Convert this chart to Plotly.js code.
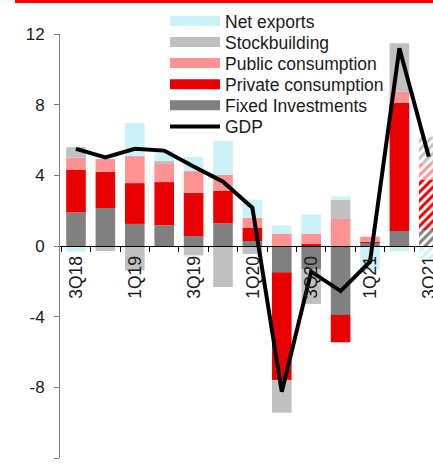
<!DOCTYPE html>
<html>
<head>
<meta charset="utf-8">
<script src="https://cdn.plot.ly/plotly-3.0.1.min.js"></script>
<style>
  html, body { margin: 0; padding: 0; background: #fff; overflow: hidden; }
  #wrap { position: relative; width: 433px; height: 466px; }
  #chart { width: 433px; height: 466px; }
  #topbar { position: absolute; left: 15px; top: 0; width: 418px; height: 3px; background: #ff0000; z-index: 10; }
  #xlabels { position: absolute; left: 0; top: 0; z-index: 5; pointer-events: none; }
</style>
</head>
<body>
<div id="wrap">
  <div id="topbar"></div>
  <div id="chart"></div>
  <svg id="xlabels" width="433" height="466"></svg>
</div>
<script>
// ---- data ----
const quarters = ['3Q18','4Q18','1Q19','2Q19','3Q19','4Q19','1Q20','2Q20','3Q20','4Q20','1Q21','2Q21','3Q21'];
const tickLabels = ['3Q18','1Q19','3Q19','1Q20','3Q20','1Q21','3Q21'];
const forecastQuarters = ['3Q21'];

const fixedInvestments   = [1.90, 2.15, 1.25, 1.17, 0.57, 1.28, 0.28, -1.49, -1.30, -3.90, 0.17, 0.85, 0.90];
const privateConsumption = [2.42, 2.05, 2.31, 2.45, 2.45, 1.85, 0.74, -6.09, 0.11, -1.55, 0.06, 7.26, 2.87];
const publicConsumption  = [0.68, 0.72, 1.53, 1.02, 1.22, 0.91, 0.58, 0.70, 0.59, 1.53, 0.30, 0.62, 0.91];
const stockbuilding      = [0.60, -0.28, -1.38, 0.19, -0.53, -2.32, -0.45, -1.85, -1.98, 1.09, 0.00, 2.74, 1.51];
const netExports         = [-0.32, 0.00, 1.87, 0.57, 0.80, 1.90, 1.02, 0.47, 1.09, 0.19, -1.32, -0.30, -0.70];
const gdp                = [5.50, 5.02, 5.50, 5.40, 4.50, 3.64, 2.17, -8.25, -1.45, -2.55, -0.89, 11.19, 5.05];

const yTicks = [-12, -8, -4, 0, 4, 8, 12];

// ---- styling ----
const colors = {
  netExports: '#ccf2f7',
  stockbuilding: '#c0c0c0',
  publicConsumption: '#ff9393',
  privateConsumption: '#ea0000',
  fixedInvestments: '#808080',
  gdp: '#000000'
};
const FONT = 'Arial, "Liberation Sans", sans-serif';
const TXT = '#1a1a1a';
const LEGEND_FONT = { family: FONT, size: 17.5, color: TXT };
const XLABEL_SIZE = 17.5, XLABEL_GAP = 10;

const idx = quarters.map((q, i) => i);
const boundaries = quarters.map((q, i) => i - 0.5).concat([quarters.length - 0.5]);
const hatch = quarters.map(q => forecastQuarters.includes(q) ? '/' : '');

function barTrace(name, values, color) {
  return {
    type: 'bar', name: name, x: idx, y: values, showlegend: false,
    marker: { color: color, line: { width: 0 },
      pattern: { shape: hatch, size: 6, solidity: 0.5, fillmode: 'replace' } },
    hoverinfo: 'skip'
  };
}
function legendTrace(name, color, legendId) {
  return { type: 'scatter', mode: 'lines', name: name, x: [null], y: [null],
    line: { color: color, width: 10 }, legend: legendId, hoverinfo: 'skip' };
}

const traces = [
  barTrace('Fixed Investments', fixedInvestments, colors.fixedInvestments),
  barTrace('Private consumption', privateConsumption, colors.privateConsumption),
  barTrace('Public consumption', publicConsumption, colors.publicConsumption),
  barTrace('Stockbuilding', stockbuilding, colors.stockbuilding),
  barTrace('Net exports', netExports, colors.netExports),
  legendTrace('Net exports', colors.netExports, 'legend'),
  legendTrace('Stockbuilding', colors.stockbuilding, 'legend2'),
  legendTrace('Public consumption', colors.publicConsumption, 'legend3'),
  legendTrace('Private consumption', colors.privateConsumption, 'legend4'),
  legendTrace('Fixed Investments', colors.fixedInvestments, 'legend5'),
  { type: 'scatter', mode: 'lines', name: 'GDP', x: idx, y: gdp,
    line: { color: colors.gdp, width: 4 }, legend: 'legend6', hoverinfo: 'skip' }
];

const PLOT_TOP = 34, PLOT_BOTTOM = 458, PLOT_LEFT = 60, PLOT_W = 373;
const legendLeftPx = 165, rowTopPx = 21, rowStepPx = 21.1;
function legendBox(k) {
  return {
    x: (legendLeftPx - PLOT_LEFT) / PLOT_W,
    y: (PLOT_BOTTOM - (rowTopPx + rowStepPx * k)) / (PLOT_BOTTOM - PLOT_TOP),
    xanchor: 'left', yanchor: 'middle',
    bgcolor: 'rgba(0,0,0,0)', borderwidth: 0, itemwidth: 50,
    font: LEGEND_FONT
  };
}

const layout = {
  width: 433, height: 466,
  margin: { l: 60, r: 0, t: 34, b: 8, pad: 0, autoexpand: false },
  paper_bgcolor: '#fff', plot_bgcolor: 'rgba(0,0,0,0)',
  barmode: 'relative', bargap: 0.333,
  font: { family: FONT, size: 17, color: TXT },
  showlegend: true,
  legend: legendBox(0), legend2: legendBox(1), legend3: legendBox(2),
  legend4: legendBox(3), legend5: legendBox(4), legend6: legendBox(5),
  xaxis: {
    type: 'linear', range: [-0.544, 12.143], fixedrange: true,
    anchor: 'free', position: 0.5,
    tickmode: 'array', tickvals: tickLabels.map(l => quarters.indexOf(l)), ticktext: tickLabels,
    ticks: '', showticklabels: false,
    showline: true, linecolor: '#000', linewidth: 1,
    showgrid: false, zeroline: false,
    minor: { tickmode: 'array', tickvals: boundaries, ticks: 'outside', ticklen: 5, tickcolor: '#000', tickwidth: 1, showgrid: false }
  },
  yaxis: {
    range: [-12, 12], fixedrange: true,
    tickmode: 'array', tickvals: yTicks, ticktext: yTicks.map(String),
    ticks: 'outside', ticklen: 5, tickcolor: '#808080', tickwidth: 1,
    ticklabelstandoff: 6,
    tickfont: { family: FONT, size: 17, color: TXT },
    showline: true, linecolor: '#808080', linewidth: 1,
    showgrid: false, zeroline: false
  }
};

// Vertical quarter labels, placed with Plotly's own axis scales (x = category index, y = 0 line).
// Each label is rotated about its own anchor point: rotate(-90 x y).
function drawXLabels(gd) {
  const NS = 'http://www.w3.org/2000/svg';
  const xa = gd._fullLayout.xaxis, ya = gd._fullLayout.yaxis;
  const svg = document.getElementById('xlabels');
  while (svg.firstChild) svg.removeChild(svg.firstChild);
  const y0 = (ya._offset + ya.l2p(0) + XLABEL_GAP).toFixed(2);
  tickLabels.forEach(lbl => {
    const x = (xa._offset + xa.l2p(quarters.indexOf(lbl)) + 0.35 * XLABEL_SIZE).toFixed(2);
    const t = document.createElementNS(NS, 'text');
    t.setAttribute('x', x);
    t.setAttribute('y', y0);
    t.setAttribute('transform', `rotate(-90 ${x} ${y0})`);
    t.setAttribute('text-anchor', 'end');
    t.setAttribute('style', `font-family: ${FONT}; font-size: ${XLABEL_SIZE}px; fill: ${TXT}`);
    t.textContent = lbl;
    svg.appendChild(t);
  });
}

Plotly.newPlot('chart', traces, layout, { displayModeBar: false, staticPlot: true })
  .then(gd => drawXLabels(gd));
</script>
</body>
</html>
